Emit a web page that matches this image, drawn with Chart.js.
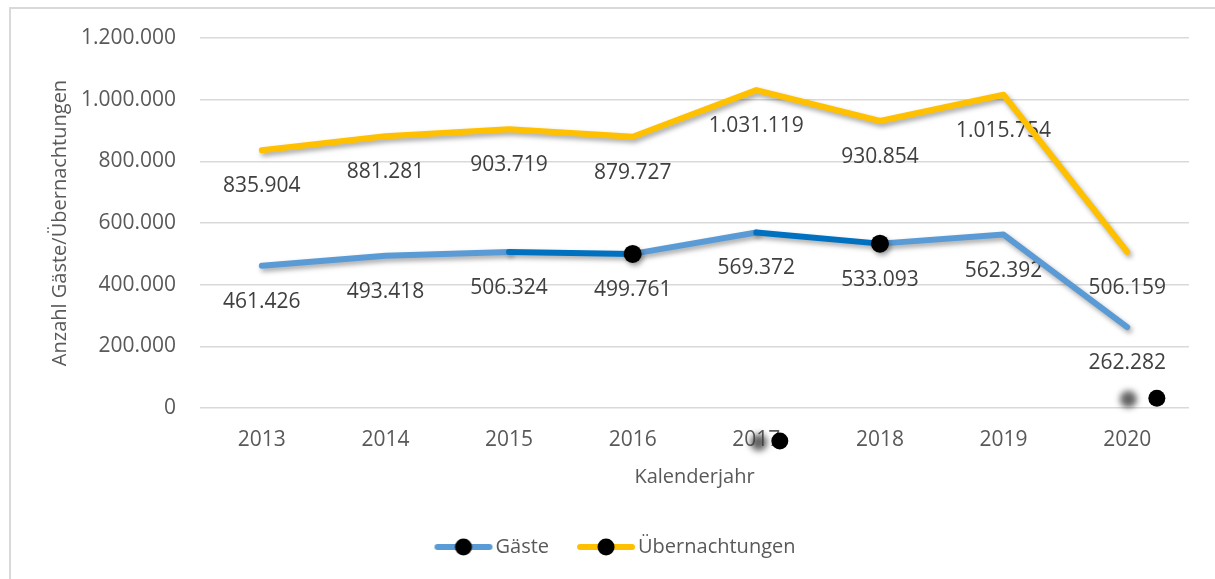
<!DOCTYPE html>
<html>
<head>
<meta charset="utf-8">
<script src="https://cdn.jsdelivr.net/npm/chart.js@4.4.1/dist/chart.umd.min.js"></script>
<style>
  html, body { margin: 0; padding: 0; background: #fff; overflow: hidden; }
  #frame { position: absolute; left: 9px; top: 7px; width: 1230px; height: 600px;
           border-left: 2px solid #d9d9d9; border-top: 2px solid #d9d9d9; }
  #wrap { position: absolute; left: 0; top: 0; width: 1215px; height: 579px; }
</style>
</head>
<body>
<div id="frame"></div>
<div id="wrap"><canvas id="myChart" width="1215" height="579"></canvas></div>
<script>
// Daten
const years = ['2013', '2014', '2015', '2016', '2017', '2018', '2019', '2020'];
const gaeste = [461426, 493418, 506324, 499761, 569372, 533093, 562392, 262282];
const uebernachtungen = [835904, 881281, 903719, 879727, 1031119, 930854, 1015754, 506159];
const yTicks = [0, 200000, 400000, 600000, 800000, 1000000, 1200000];
const gaesteMarkerYears = ['2016', '2018'];     // Jahre mit schwarzem Punkt
const gaesteDarkFrom = ['2015', '2017'];        // dunkler Abschnitt ab diesem Jahr
// verirrte Punkte im Bild (x = Kategorie-Position)
const strayDots = [{x: 4.19, y: -107000}, {x: 7.24, y: 31500}];
const strayGhosts = [{x: 4.02, y: -112000}, {x: 7.01, y: 28300}];

const FONT = "'Open Sans', sans-serif";
const BLUE = '#5B9BD5', BLUE_DARK = '#0070C0', GOLD = '#FFC000';

function fmt(v) {
    return String(Math.round(v)).replace(/\B(?=(\d{3})+(?!\d))/g, '.');
}

// Legendensymbol: Linie mit Punkt
function legendIcon(color) {
    const c = document.createElement('canvas');
    c.width = 62; c.height = 20;
    const g = c.getContext('2d');
    g.strokeStyle = color; g.lineWidth = 6; g.lineCap = 'round';
    g.beginPath(); g.moveTo(5, 10); g.lineTo(57, 10); g.stroke();
    g.fillStyle = '#000';
    g.beginPath(); g.arc(31, 10, 8.5, 0, Math.PI * 2); g.fill();
    return c;
}

const shadowPlugin = {
    id: 'shadow',
    beforeDatasetDraw(chart, args) {
        const ds = chart.data.datasets[args.index];
        if (ds.stray) return false;   // werden unten ohne Clipping gezeichnet
        const ctx = chart.ctx;
        ctx.save();
        if (ds.shadow) {
            ctx.shadowColor = 'rgba(0,0,0,0.35)';
            ctx.shadowBlur = 5;
            ctx.shadowOffsetX = 2;
            ctx.shadowOffsetY = 3;
        }
    },
    afterDatasetDraw(chart, args) {
        if (chart.data.datasets[args.index].stray) return;
        chart.ctx.restore();
    },
    afterDatasetsDraw(chart) {
        const ctx = chart.ctx;
        chart.data.datasets.forEach((ds, i) => {
            if (!ds.stray) return;
            ctx.save();
            if (ds.ghost) ctx.filter = 'blur(3px)';
            chart.getDatasetMeta(i).data.forEach(pt => pt.draw(ctx));
            ctx.restore();
        });
    },
    afterLayout(chart) {
        // Legende etwas nach rechts wie im Original
        chart.legend.left += 24;
        chart.legend.right += 24;
    }
};

const labelPlugin = {
    id: 'valueLabels',
    beforeDatasetsDraw(chart) {
        const ctx = chart.ctx;
        ctx.save();
        ctx.font = '21px ' + FONT;
        ctx.fillStyle = '#404040';
        ctx.textAlign = 'center';
        ctx.textBaseline = 'middle';
        chart.data.datasets.forEach((ds, i) => {
            if (!ds.showLabels) return;
            chart.getDatasetMeta(i).data.forEach((pt, j) => {
                ctx.fillText(fmt(ds.data[j]), pt.x, pt.y + 36);
            });
        });
        ctx.restore();
    }
};

const ctx = document.getElementById('myChart').getContext('2d');
const myChart = new Chart(ctx, {
    type: 'line',
    data: {
        labels: years,
        datasets: [
            {
                label: 'Übernachtungen',
                data: uebernachtungen,
                borderColor: GOLD,
                borderWidth: 6,
                borderCapStyle: 'round',
                borderJoinStyle: 'round',
                pointRadius: 0,
                tension: 0,
                shadow: true,
                showLabels: true,
                legendColor: GOLD,
                order: 2
            },
            {
                label: 'Gäste',
                data: gaeste,
                borderColor: BLUE,
                borderWidth: 6,
                borderCapStyle: 'round',
                borderJoinStyle: 'round',
                segment: {
                    borderColor: c => gaesteDarkFrom.includes(years[c.p0DataIndex]) ? BLUE_DARK : BLUE
                },
                pointRadius: c => gaesteMarkerYears.includes(years[c.dataIndex]) ? 9 : 0,
                pointBackgroundColor: '#000',
                pointBorderWidth: 0,
                tension: 0,
                shadow: true,
                showLabels: true,
                legendColor: BLUE,
                order: 1
            },
            {
                type: 'scatter',
                label: 'ghost',
                data: strayGhosts,
                xAxisID: 'xs',
                pointRadius: 8.5,
                pointBackgroundColor: 'rgba(60,60,60,0.8)',
                pointBorderWidth: 0,
                stray: true,
                ghost: true,
                order: 0
            },
            {
                type: 'scatter',
                label: 'dot',
                data: strayDots,
                xAxisID: 'xs',
                pointRadius: 8.5,
                pointBackgroundColor: '#000',
                pointBorderWidth: 0,
                stray: true,
                order: 0
            }
        ]
    },
    options: {
        responsive: false,
        animation: false,
        events: [],
        layout: { padding: { left: 0, right: 26, top: 38, bottom: 12 } },
        scales: {
            x: {
                offset: true,
                grid: { display: false, drawTicks: false, offset: true },
                border: { display: false },
                ticks: { color: '#595959', font: { family: FONT, size: 21 }, padding: 19 },
                title: { display: true, text: 'Kalenderjahr', color: '#595959',
                         font: { family: FONT, size: 20 }, padding: { top: 0, bottom: 13 } },
                afterFit: s => { s.height = 94; }
            },
            xs: {
                type: 'linear', display: false, min: -0.5, max: 7.5
            },
            y: {
                min: 0,
                max: 1200000,
                afterBuildTicks: s => { s.ticks = yTicks.map(v => ({ value: v })); },
                grid: { color: '#d9d9d9', lineWidth: 1.5, drawTicks: false },
                border: { display: false },
                ticks: { color: '#595959', font: { family: FONT, size: 21 }, padding: 24,
                         callback: v => fmt(v) },
                title: { display: true, text: 'Anzahl Gäste/Übernachtungen', color: '#595959',
                         font: { family: FONT, size: 20 }, padding: { top: 48, bottom: 0 } },
                afterFit: s => { s.width = 200; }
            }
        },
        plugins: {
            tooltip: { enabled: false },
            legend: {
                position: 'bottom',
                labels: {
                    usePointStyle: true,
                    pointStyleWidth: 44,
                    color: '#595959',
                    font: { family: FONT, size: 20 },
                    padding: 35,
                    generateLabels: chart => chart.data.datasets
                        .map((ds, i) => ({ ds, i }))
                        .filter(o => o.ds.legendColor)
                        .sort((a, b) => a.ds.order - b.ds.order)
                        .map(o => ({
                            text: o.ds.label,
                            datasetIndex: o.i,
                            pointStyle: legendIcon(o.ds.legendColor),
                            fontColor: '#595959',
                            lineWidth: 0,
                            hidden: false
                        }))
                }
            }
        }
    },
    plugins: [shadowPlugin, labelPlugin]
});
</script>
</body>
</html>
